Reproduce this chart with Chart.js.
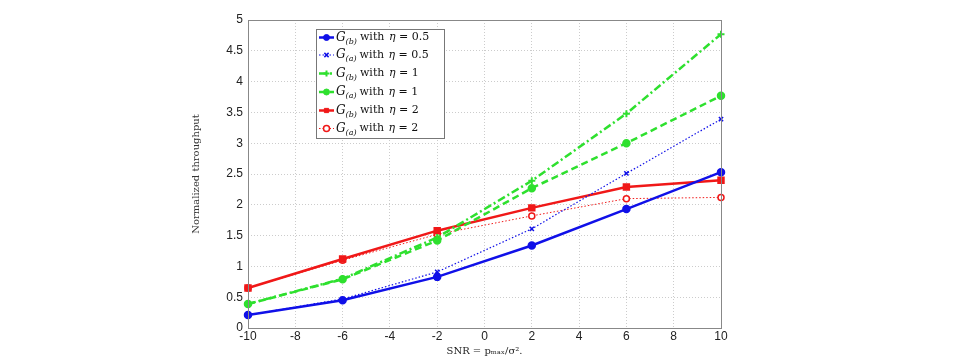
<!DOCTYPE html>
<html>
<head>
<meta charset="utf-8">
<script src="https://cdn.jsdelivr.net/npm/chart.js@4/dist/chart.umd.min.js"></script>
<style>
  body { margin: 0; background: #fff; }
  #wrap { width: 972px; height: 358px; }
</style>
</head>
<body>
<div id="wrap"><canvas id="snrChart"></canvas></div>
<script>
// SNR points (dB)
const snr = [-10, -6, -2, 2, 6, 10];

// eta = 0.5
const gbEta05 = [0.21, 0.45, 0.83, 1.34, 1.93, 2.53];
const gaEta05 = [0.21, 0.47, 0.91, 1.61, 2.51, 3.39];
// eta = 1
const gbEta1 = [0.39, 0.80, 1.47, 2.39, 3.48, 4.77];
const gaEta1 = [0.39, 0.79, 1.42, 2.27, 3.00, 3.77];
// eta = 2
const gbEta2 = [0.65, 1.12, 1.58, 1.95, 2.29, 2.40];
const gaEta2 = [0.65, 1.10, 1.52, 1.82, 2.10, 2.12];

const seriesNames = [
    ['b', '0.5'], ['a', '0.5'], ['b', '1'], ['a', '1'], ['b', '2'], ['a', '2']
];

let pts = function (ys) {
    return snr.map((x, i) => ({ x: x, y: ys[i] }));
};

let blue = '#1010e8', green = '#2ee02e', red = '#f01818';

let datasets = [
    { data: pts(gbEta05), borderColor: blue, backgroundColor: blue, borderWidth: 2.5,
      pointStyle: 'circle', pointRadius: 3 },
    { data: pts(gaEta05), borderColor: blue, backgroundColor: blue, borderWidth: 1.2,
      borderDash: [1.5, 2], pointStyle: 'crossRot', pointRadius: 3, pointBorderWidth: 1.5 },
    { data: pts(gbEta1), borderColor: green, backgroundColor: green, borderWidth: 2.5,
      borderDash: [8, 3, 2, 3], pointStyle: 'cross', pointRadius: 3.5, pointBorderWidth: 2 },
    { data: pts(gaEta1), borderColor: green, backgroundColor: green, borderWidth: 2.5,
      borderDash: [7, 4], pointStyle: 'circle', pointRadius: 3 },
    { data: pts(gbEta2), borderColor: red, backgroundColor: red, borderWidth: 2.5,
      pointStyle: 'rect', pointRadius: 3.5 },
    { data: pts(gaEta2), borderColor: red, backgroundColor: '#fff', borderWidth: 1,
      borderDash: [1.5, 2], pointStyle: 'circle', pointRadius: 3, pointBorderWidth: 1.5 }
];
datasets.forEach(d => {
    d.fill = false;
    d.tension = 0;
    d.clip = false;
    d.pointBorderColor = d.borderColor;
});

// box around plot + legend inside the plot
let boxPlugin = {
    id: 'boxAndLegend',
    afterDraw: function (chart) {
        let c = chart.ctx, a = chart.chartArea;
        c.save();
        c.strokeStyle = '#888';
        c.lineWidth = 1;
        c.setLineDash([]);
        c.strokeRect(a.left + 0.5, a.top + 0.5, a.right - a.left, a.bottom - a.top);

        let lx = 316, ly = 29, lw = 128, lh = 109;
        c.fillStyle = '#fff';
        c.fillRect(lx, ly, lw, lh);
        c.strokeStyle = '#777';
        c.strokeRect(lx + 0.5, ly + 0.5, lw, lh);

        let rows = [37.5, 55, 73.5, 92, 110.5, 128.5];
        chart.data.datasets.forEach((d, i) => {
            let y = rows[i];
            c.strokeStyle = d.borderColor;
            c.lineWidth = d.borderWidth;
            c.setLineDash(d.borderDash || []);
            c.beginPath();
            c.moveTo(319, y);
            c.lineTo(334, y);
            c.stroke();
            c.setLineDash([]);
            c.lineWidth = d.pointBorderWidth || 1;
            c.fillStyle = d.backgroundColor;
            Chart.helpers.drawPoint(c, { pointStyle: d.pointStyle, radius: 3, borderWidth: d.pointBorderWidth || 1 }, 326.5, y);

            let tx = 336;
            c.fillStyle = '#111';
            c.textBaseline = 'middle';
            c.font = 'italic 12px "DejaVu Serif"';
            c.fillText('G', tx, y);
            tx += c.measureText('G').width;
            c.font = 'italic 8px "DejaVu Serif"';
            let sub = '(' + seriesNames[i][0] + ')';
            c.fillText(sub, tx, y + 4);
            tx += c.measureText(sub).width + 3;
            c.font = '11px "DejaVu Serif"';
            c.fillText('with', tx, y);
            tx += c.measureText('with ').width + 1;
            c.font = 'italic 11px "DejaVu Serif"';
            c.fillText('η', tx, y);
            tx += c.measureText('η').width;
            c.font = '11px "DejaVu Serif"';
            c.fillText(' = ' + seriesNames[i][1], tx, y);
        });
        c.restore();
    }
};

new Chart(document.getElementById('snrChart').getContext('2d'), {
    type: 'line',
    data: { datasets: datasets },
    plugins: [boxPlugin],
    options: {
        responsive: true,
        maintainAspectRatio: false,
        animation: false,
        layout: { padding: { left: 190, right: 251, top: 20, bottom: 0 } },
        plugins: {
            legend: { display: false },
            tooltip: { enabled: false }
        },
        scales: {
            x: {
                type: 'linear',
                min: -10,
                max: 10,
                ticks: { stepSize: 2, color: '#222', font: { family: 'Liberation Sans', size: 12 }, padding: 1 },
                grid: { color: '#cccccc', drawTicks: false },
                border: { display: false, dash: [1, 2] },
                title: {
                    display: true,
                    text: 'SNR = pₘₐₓ/σ².',
                    color: '#222',
                    font: { family: 'DejaVu Serif', size: 10 },
                    padding: { top: 0, bottom: 1 }
                },
                afterFit: function (s) { s.height = 30; }
            },
            y: {
                min: 0,
                max: 5,
                ticks: {
                    stepSize: 0.5,
                    color: '#222',
                    font: { family: 'Liberation Sans', size: 12 },
                    padding: 5,
                    callback: function (v) { return String(Math.round(v * 10) / 10); }
                },
                grid: { color: '#cccccc', drawTicks: false },
                border: { display: false, dash: [1, 2] },
                title: {
                    display: true,
                    text: 'Normalized throughput',
                    color: '#333',
                    font: { family: 'DejaVu Serif', size: 10 },
                    padding: { top: 0, bottom: 0 }
                },
                afterFit: function (s) { s.width = 58; }
            }
        }
    }
});
</script>
</body>
</html>
